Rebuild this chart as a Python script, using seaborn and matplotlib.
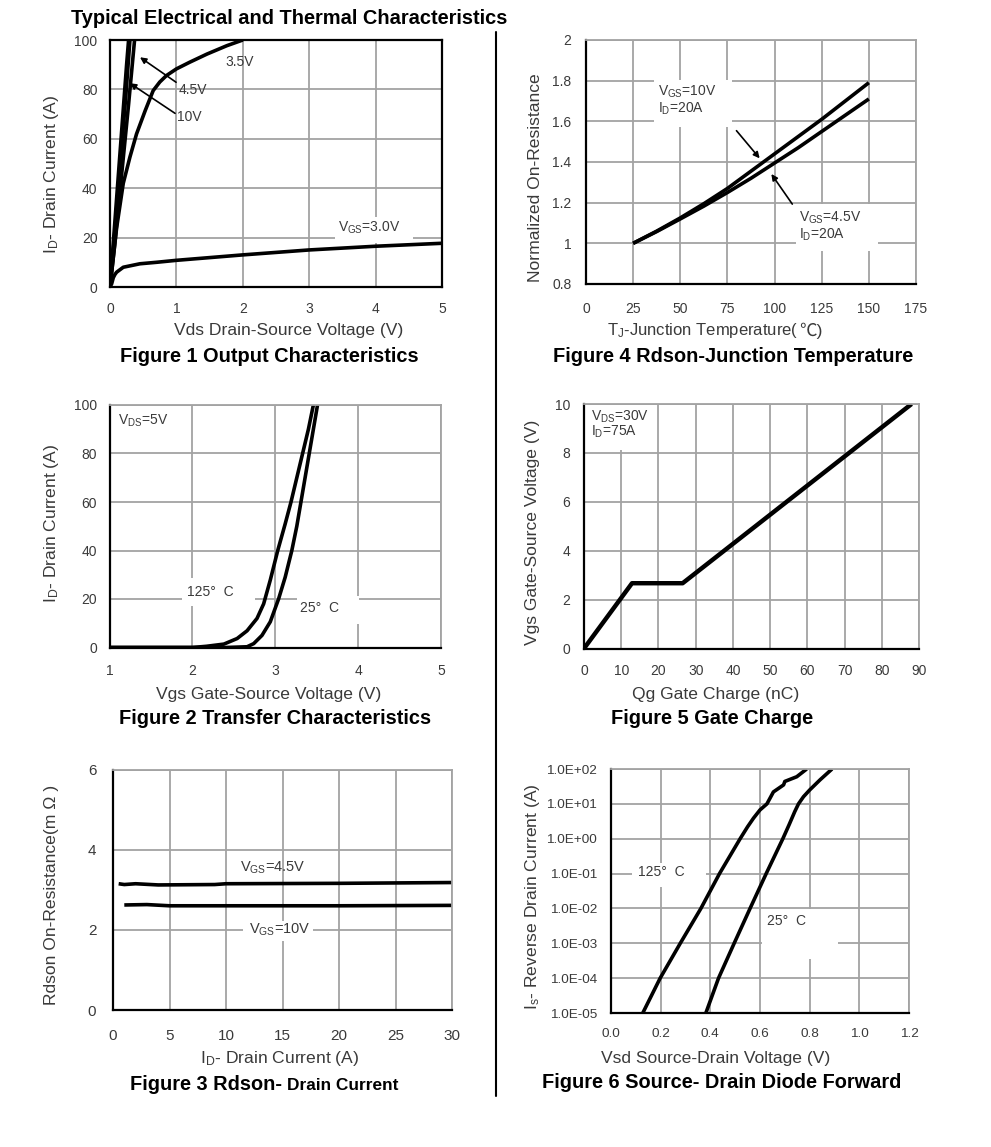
import matplotlib
matplotlib.use('Agg')
import matplotlib.pyplot as plt
from matplotlib.patches import Rectangle
import seaborn as sns

W, H = 991, 1147

# Figure 1 output characteristics
vds_10v = [0, 0.05, 0.1, 0.15, 0.2, 0.25, 0.28]
id_10v = [0, 18, 36, 54, 72, 90, 100]
vds_6v = [0, 0.06, 0.12, 0.18, 0.24, 0.3]
id_6v = [0, 18, 38, 58, 78, 100]
vds_45v = [0, 0.07, 0.14, 0.21, 0.28, 0.37]
id_45v = [0, 17, 36, 55, 74, 100]
vds_35v = [0, 0.05, 0.1, 0.2, 0.3, 0.4, 0.53, 0.65, 0.75, 0.85, 1, 1.2, 1.46, 1.76, 2]
id_35v = [0, 12, 24, 42, 52.6, 62, 71.4, 79.5, 83, 85.6, 88.3, 91, 94.3, 97.7, 100]
vds_30v = [0, 0.025, 0.05, 0.075, 0.1, 0.2, 0.45, 0.7, 1, 2, 3, 4, 5]
id_30v = [0, 1.3, 3.8, 5.1, 6, 8, 9.4, 10, 10.8, 13, 15, 16.5, 17.7]

# Figure 2 transfer characteristics
vgs_125c = [1, 2, 2.17, 2.38, 2.54, 2.66, 2.78, 2.86, 2.94, 3.03, 3.12, 3.19, 3.26, 3.33, 3.40, 3.46]
id_125c = [0, 0, 0.5, 1.4, 3.7, 6.9, 12, 18, 27.8, 40, 51, 60, 70, 80, 90, 100]
vgs_25c = [1, 2.4, 2.66, 2.74, 2.84, 2.94, 3.04, 3.12, 3.2, 3.26, 3.31, 3.36, 3.41, 3.46, 3.51]
id_25c = [0, 0, 0.3, 1.6, 5, 10.6, 20, 29, 40, 50, 60, 70, 80, 90, 100]

# Figure 3 Rdson vs drain current
id_r45 = [0.5, 1, 2, 4, 9, 10, 20, 30]
r_45 = [3.15, 3.13, 3.15, 3.12, 3.13, 3.15, 3.16, 3.18]
id_r10 = [1, 3, 5, 10, 20, 30]
r_10 = [2.62, 2.63, 2.6, 2.6, 2.6, 2.61]

# Figure 4 Rdson vs temperature
tj = [25, 37.5, 50, 62.5, 75, 87.5, 100, 112.5, 125, 137.5, 150]
rn_10v = [1, 1.06, 1.125, 1.195, 1.27, 1.355, 1.44, 1.525, 1.61, 1.70, 1.79]
rn_45v = [1, 1.058, 1.12, 1.183, 1.25, 1.32, 1.395, 1.47, 1.55, 1.63, 1.71]

# Figure 5 gate charge
qg = [0, 12.9, 26.5, 88]
vgs_q = [0, 2.67, 2.67, 10]

# Figure 6 diode forward
vsd_125c = [0.128, 0.198, 0.279, 0.362, 0.437, 0.52, 0.55, 0.574, 0.60, 0.628, 0.654, 0.695, 0.70, 0.748, 0.788]
is_125c = [1e-5, 1e-4, 1e-3, 1e-2, 1e-1, 1, 2.2, 3.9, 6.7, 10, 22, 35, 44, 60, 100]
vsd_25c = [0.382, 0.433, 0.496, 0.56, 0.625, 0.692, 0.717, 0.74, 0.755, 0.775, 0.80, 0.842, 0.89]
is_25c = [1e-5, 1e-4, 1e-3, 1e-2, 1e-1, 1, 2.5, 6, 10, 16, 25, 49, 100]
log_ticks = [1e-5, 1e-4, 1e-3, 1e-2, 1e-1, 1, 10, 100]
log_labels = ['1.0E-05', '1.0E-04', '1.0E-03', '1.0E-02', '1.0E-01', '1.0E+00', '1.0E+01', '1.0E+02']

sns.set_theme(style='white')
plt.rcParams['font.family'] = ['Liberation Sans', 'Noto Sans CJK SC', 'DejaVu Sans']
plt.rcParams['mathtext.fontset'] = 'custom'
plt.rcParams['mathtext.rm'] = 'Liberation Sans'
plt.rcParams['mathtext.default'] = 'regular'

GRID = '#a3a3a3'
TEXT = '#3a3a3a'

fig = plt.figure(figsize=(W / 100, H / 100), dpi=100, facecolor='white')


def fx(x):
    return x / W


def fy(y):
    return 1 - y / H


def make_axes(box, xlim, ylim, xticks, yticks, pads, tick_size=10, dark_top=False):
    left, top, right, bottom = box
    ax = fig.add_axes([fx(left), fy(bottom), (right - left) / W, (bottom - top) / H])
    ax.set_axisbelow(True)
    ax.grid(True, color=GRID, linewidth=1.3)
    ax.set_xticks(xticks)
    ax.set_yticks(yticks)
    ax.set_xlim(xlim)
    ax.set_ylim(ylim)
    ax.tick_params(axis='x', length=0, pad=pads[0], labelsize=tick_size, labelcolor=TEXT)
    ax.tick_params(axis='y', length=0, pad=pads[1], labelsize=tick_size, labelcolor=TEXT)
    for side in ['left', 'bottom']:
        ax.spines[side].set_color('black')
        ax.spines[side].set_linewidth(1.6)
    for side in ['top', 'right']:
        ax.spines[side].set_color('black' if dark_top else GRID)
        ax.spines[side].set_linewidth(1.6 if dark_top else 1.3)
    return ax


def labels(ax, xlabel, xpos, ylabel, ypos, size=12.6):
    ax.set_xlabel(xlabel, fontsize=size, color=TEXT)
    ax.set_ylabel(ylabel, fontsize=size, color=TEXT)
    ax.xaxis.set_label_coords(fx(xpos[0]), fy(xpos[1]), transform=fig.transFigure)
    ax.yaxis.set_label_coords(fx(ypos[0]), fy(ypos[1]), transform=fig.transFigure)
    ax.xaxis.label.set_verticalalignment('center')
    ax.yaxis.label.set_verticalalignment('center')


def curve(ax, x, y, lw=2.6):
    sns.lineplot(x=x, y=y, ax=ax, color='black', linewidth=lw, estimator=None, sort=False,
                 errorbar=None, solid_capstyle='butt')


def blank(ax, x0, y0, x1, y1):
    # white block behind a note, hides the grid
    ax.add_patch(Rectangle((fx(x0), fy(y1)), (x1 - x0) / W, (y1 - y0) / H, transform=fig.transFigure,
                           facecolor='white', edgecolor='none', zorder=1.5))


def note(x, y, s, size=10):
    fig.text(fx(x), fy(y), s, fontsize=size, color=TEXT, ha='left', va='center')


def arrow(ax, start, end):
    ax.annotate('', xy=end, xytext=start,
                arrowprops=dict(arrowstyle='-|>', color='black', lw=1.2, mutation_scale=9,
                                shrinkA=0, shrinkB=0))


def caption(x, y, s, size=14.4):
    fig.text(fx(x), fy(y), s, fontsize=size, fontweight='bold', color='black', ha='center', va='center')


# 1
ax1 = make_axes((110, 40, 442, 287), (0, 5), (0, 100), range(0, 6), range(0, 101, 20), (11, 9), dark_top=True)
blank(ax1, 335, 217, 413, 243)
for x, y in [(vds_10v, id_10v), (vds_6v, id_6v), (vds_45v, id_45v), (vds_35v, id_35v), (vds_30v, id_30v)]:
    curve(ax1, x, y)
arrow(ax1, (0.995, 82.9), (0.452, 93))
arrow(ax1, (0.98, 70.3), (0.30, 82.5))
note(225, 62, '3.5V')
note(179, 90, '4.5V')
note(177, 117, '10V')
note(338, 228, 'V$_{GS}$=3.0V')
labels(ax1, 'Vds Drain-Source Voltage (V)', (289, 331), 'I$_{D}$- Drain Current (A)', (52, 174))
caption(269, 356, 'Figure 1 Output Characteristics')

# 2
ax2 = make_axes((109.5, 405, 441, 647.5), (1, 5), (0, 100), range(1, 6), range(0, 101, 20), (12, 9))
blank(ax2, 182, 578, 255, 606)
blank(ax2, 297, 596, 359, 624)
curve(ax2, vgs_125c, id_125c)
curve(ax2, vgs_25c, id_25c)
note(118, 421, 'V$_{DS}$=5V')
note(187, 592, '125°  C')
note(300, 608, '25°  C')
labels(ax2, 'Vgs Gate-Source Voltage (V)', (269, 694), 'I$_{D}$- Drain Current (A)', (52, 523))
caption(275, 719, 'Figure 2 Transfer Characteristics')

# 3
ax3 = make_axes((113, 769.5, 452, 1010), (0, 30), (0, 6), range(0, 31, 5), range(0, 7, 2), (14, 12), tick_size=11)
blank(ax3, 243, 921, 313, 941)
curve(ax3, id_r45, r_45)
curve(ax3, id_r10, r_10)
note(240, 868, 'V$_{GS}$=4.5V', size=10.5)
note(249, 930, 'V$_{GS}$=10V', size=10.5)
labels(ax3, 'I$_{D}$- Drain Current (A)', (280, 1058), 'Rdson On-Resistance(m Ω )', (52, 895))
fig.text(fx(130), fy(1084), 'Figure 3 Rdson-', fontsize=14.4, fontweight='bold', color='black', ha='left', va='center')
fig.text(fx(287), fy(1085), 'Drain Current', fontsize=12.4, fontweight='bold', color='black', ha='left', va='center')

# 4
ax4 = make_axes((586, 40, 916, 284), (0, 175), (0.8, 2), range(0, 176, 25), [0.8, 1, 1.2, 1.4, 1.6, 1.8, 2], (13, 10.5))
ax4.set_yticklabels(['0.8', '1', '1.2', '1.4', '1.6', '1.8', '2'])
blank(ax4, 654, 80, 732, 127)
blank(ax4, 796, 204, 878, 251)
curve(ax4, tj, rn_10v)
curve(ax4, tj, rn_45v)
arrow(ax4, (79.8, 1.554), (92.1, 1.418))
arrow(ax4, (109.4, 1.193), (98.3, 1.341))
note(658, 92, 'V$_{GS}$=10V')
note(658, 109, 'I$_{D}$=20A')
note(799, 218, 'V$_{GS}$=4.5V')
note(799, 235, 'I$_{D}$=20A')
labels(ax4, 'T$_{J}$-Junction Temperature(', (798, 331), 'Normalized On-Resistance', (535, 178))
ax4.xaxis.label.set_horizontalalignment('right')
ax4.xaxis.label.set_fontsize(12)
fig.text(fx(799), fy(331), '℃)', fontsize=12.6, color=TEXT, ha='left', va='center')
caption(733, 356, 'Figure 4 Rdson-Junction Temperature')

# 5
ax5 = make_axes((584, 404, 919, 648.5), (0, 90), (0, 10), range(0, 91, 10), range(0, 11, 2), (11.5, 10))
blank(ax5, 586, 405, 656, 450)
curve(ax5, qg, vgs_q, lw=3.2)
note(591, 417, 'V$_{DS}$=30V')
note(591, 432, 'I$_{D}$=75A')
labels(ax5, 'Qg Gate Charge (nC)', (716, 694), 'Vgs Gate-Source Voltage (V)', (532, 532))
caption(712, 719, 'Figure 5 Gate Charge')

# 6
ax6 = make_axes((611, 769, 909, 1013), (0, 1.2), (1e-5, 1e2), [0, 0.2, 0.4, 0.6, 0.8, 1.0, 1.2], [1], (11, 10), tick_size=9.7)
ax6.set_yscale('log')
ax6.set_yticks(log_ticks)
ax6.set_yticklabels(log_labels)
ax6.minorticks_off()
ax6.set_ylim(1e-5, 1e2)
ax6.set_xticklabels(['0.0', '0.2', '0.4', '0.6', '0.8', '1.0', '1.2'])
blank(ax6, 632, 863, 706, 887)
blank(ax6, 762, 909, 838, 959)
curve(ax6, vsd_125c, is_125c)
curve(ax6, vsd_25c, is_25c)
note(638, 872, '125°  C')
note(767, 921, '25°  C')
labels(ax6, 'Vsd Source-Drain Voltage (V)', (716, 1058), 'I$_{s}$- Reverse Drain Current (A)', (532, 897))
caption(722, 1083, 'Figure 6 Source- Drain Diode Forward')

fig.text(fx(71), fy(18), 'Typical Electrical and Thermal Characteristics', fontsize=14.4, fontweight='bold',
         color='black', ha='left', va='center')
# divider between the two columns
fig.add_artist(plt.Line2D([fx(496), fx(496)], [fy(32), fy(1096)], color='black', linewidth=1.5))

fig.savefig('out.png', dpi=100, facecolor='white')
